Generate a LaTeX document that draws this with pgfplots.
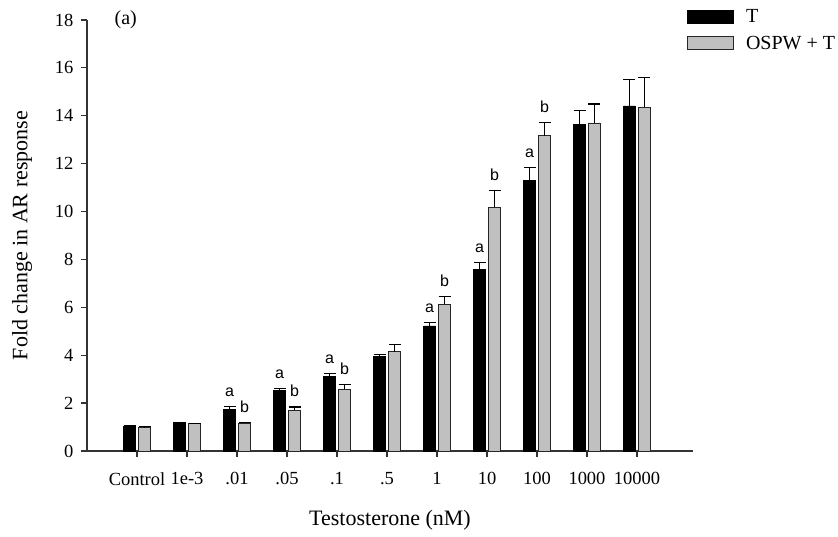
\documentclass[border=0pt]{standalone}
\usepackage{fontspec}
\setmainfont{Liberation Serif}
\newfontfamily\arialf{Liberation Sans}
\usepackage{pgfplots}
\pgfplotsset{compat=1.18}
\definecolor{barGray}{RGB}{192,192,192}
\begin{document}
\begin{tikzpicture}
\begin{axis}[
  scale only axis, width=606bp, height=431bp,
  xmin=-1, xmax=11.12, ymin=0, ymax=18,
  axis x line=bottom, axis y line=left,
  axis line style={-, line width=1.3bp, black!80},
  xtick={0,...,10},
  xticklabels={Control,1e-3,.01,.05,.1,.5,1,10,100,1000,10000},
  ytick={0,2,...,18},
  tick align=outside, major tick length=6bp,
  tick style={black!80, line width=1.2bp},
  ticklabel style={font=\fontsize{18.5bp}{22bp}\selectfont},
  /pgf/number format/assume math mode=true,
  xticklabel style={yshift=-12bp},
  yticklabel style={xshift=-4bp},
  xlabel={Testosterone (nM)},
  ylabel={Fold change in AR response},
  label style={font=\fontsize{22bp}{26bp}\selectfont},
  xlabel style={at={(rel axis cs:0.5,-0.160)}, anchor=center},
  ylabel style={at={(rel axis cs:-0.1073,0.5)}, anchor=center},
  clip=false,
  legend style={at={(rel axis cs:0.99,1.0255)}, anchor=north west, draw=none, fill=none,
    inner sep=0pt, font=\fontsize{20bp}{24bp}\selectfont, row sep=12bp,
    nodes={inner sep=0pt}},
  legend cell align=left,
  legend image code/.code={\draw[#1, line width=1bp] (0bp,-6.5bp) rectangle (46bp,6.5bp); \path (58bp,0bp);},
]
\addplot[ybar, bar width=11.5bp, bar shift=0pt, fill=black, draw=black, line width=0.8bp,
  error bars/.cd, y dir=plus, y explicit,
  error bar style={line width=1.2bp, black},
  error mark options={line width=1.2bp, mark size=6bp, black, rotate=90}]
  table[x=x, y=y, y error=e] {
x y e
-0.15 1.04 0.02
0.85 1.18 0.02
1.85 1.74 0.11
2.85 2.52 0.10
3.85 3.10 0.12
4.85 3.94 0.10
5.85 5.22 0.14
6.85 7.59 0.29
7.85 11.29 0.56
8.85 13.62 0.59
9.85 14.41 1.11
};
\addlegendentry{T}
\addplot[ybar, bar width=11.5bp, bar shift=0pt, fill=barGray, draw=black!85, line width=0.8bp,
  error bars/.cd, y dir=plus, y explicit,
  error bar style={line width=1.2bp, black},
  error mark options={line width=1.2bp, mark size=6bp, black, rotate=90}]
  table[x=x, y=y, y error=e] {
x y e
0.15 0.99 0.02
1.15 1.14 0.02
2.15 1.16 0.04
3.15 1.71 0.13
4.15 2.58 0.19
5.15 4.15 0.31
6.15 6.13 0.32
7.15 10.18 0.69
8.15 13.16 0.55
9.15 13.70 0.79
10.15 14.36 1.24
};
\addlegendentry{OSPW + T}
\addplot[forget plot, only marks, mark=none, nodes near coords, point meta=explicit symbolic,
  nodes near coords style={anchor=base, yshift=10bp, inner sep=0pt,
    font=\arialf\fontsize{16bp}{19bp}\selectfont}]
  table[x=x, y=y, meta=lab] {
x y lab
1.85 1.85 a
2.15 1.20 b
2.85 2.62 a
3.15 1.84 b
3.85 3.22 a
4.15 2.77 b
5.85 5.36 a
6.15 6.45 b
6.85 7.88 a
7.15 10.87 b
7.85 11.85 a
8.15 13.71 b
};
\node[font=\fontsize{20bp}{24bp}\selectfont] at (rel axis cs:0.064,1.0) {(a)};
\path (rel axis cs:-0.1436,-0.1995) rectangle (rel axis cs:1.2393,1.0464);
\end{axis}
\end{tikzpicture}
\end{document}
